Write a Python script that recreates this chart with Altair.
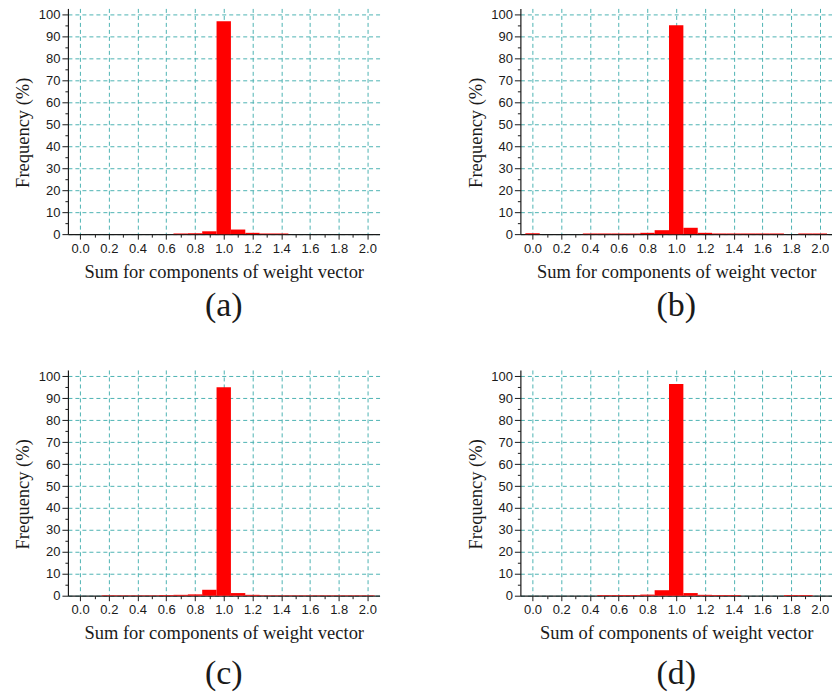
import altair as alt
import pandas as pd

# bin centres (bin width 0.1)
centers = [0.0, 0.1, 0.2, 0.3, 0.4, 0.5, 0.6, 0.7, 0.8, 0.9, 1.0,
           1.1, 1.2, 1.3, 1.4, 1.5, 1.6, 1.7, 1.8, 1.9, 2.0]

freq_a = [0.0, 0.0, 0.0, 0.0, 0.0, 0.0, 0.0, 0.3, 0.4, 1.3, 97.0,
          2.1, 0.6, 0.3, 0.3, 0.0, 0.0, 0.0, 0.0, 0.0, 0.0]
freq_b = [0.4, 0.0, 0.0, 0.0, 0.3, 0.3, 0.3, 0.3, 0.6, 1.8, 95.2,
          2.9, 0.6, 0.3, 0.3, 0.3, 0.3, 0.3, 0.0, 0.3, 0.3]
freq_c = [0.0, 0.0, 0.2, 0.2, 0.2, 0.2, 0.3, 0.4, 0.6, 2.7, 95.0,
          1.2, 0.4, 0.2, 0.2, 0.2, 0.2, 0.2, 0.2, 0.2, 0.2]
freq_d = [0.0, 0.0, 0.0, 0.0, 0.0, 0.3, 0.3, 0.3, 0.5, 2.5, 96.5,
          1.2, 0.4, 0.3, 0.3, 0.0, 0.0, 0.0, 0.3, 0.3, 0.0]

panel_labels = ["(a)", "(b)", "(c)", "(d)"]
x_titles = ["Sum for components of weight vector",
            "Sum for components of weight vector",
            "Sum for components of weight vector",
            "Sum of components of weight vector"]
y_title = "Frequency (%)"

x_ticks = [0.0, 0.1, 0.2, 0.3, 0.4, 0.5, 0.6, 0.7, 0.8, 0.9, 1.0,
           1.1, 1.2, 1.3, 1.4, 1.5, 1.6, 1.7, 1.8, 1.9, 2.0]
y_ticks = [0, 5, 10, 15, 20, 25, 30, 35, 40, 45, 50,
           55, 60, 65, 70, 75, 80, 85, 90, 95, 100]

GRID = "#4db3b3"
INK = "#1a1a1a"
MAJX = "round(datum.value * 10) % 2 == 0"
MAJY = "datum.value % 10 == 0"


def panel(freq, xtitle, label, label_offset):
    df = pd.DataFrame({"center": centers, "freq": freq})
    x_axis = alt.Axis(
        values=x_ticks,
        labelExpr=f"{MAJX} ? format(datum.value, '.1f') : ''",
        tickSize={"condition": {"test": MAJX, "value": 5}, "value": 3},
        gridOpacity={"condition": {"test": MAJX, "value": 1}, "value": 0},
        grid=True, gridColor=GRID, gridDash=[4, 3], gridWidth=1,
        domainColor=INK, domainWidth=1.2, tickColor=INK, tickWidth=1,
        labelFont="Liberation Sans", labelFontSize=13, labelColor=INK,
        labelPadding=3, labelFlush=False, labelOverlap=False,
        title=xtitle, titleFont="Liberation Serif", titleFontSize=18.5,
        titleFontWeight="normal", titleColor=INK, titlePadding=7,
    )
    y_axis = alt.Axis(
        values=y_ticks,
        labelExpr=f"{MAJY} ? datum.label : ''",
        tickSize={"condition": {"test": MAJY, "value": 6}, "value": 3},
        gridOpacity={"condition": {"test": MAJY, "value": 1}, "value": 0},
        grid=True, gridColor=GRID, gridDash=[4, 3], gridWidth=1,
        domainColor=INK, domainWidth=1.2, tickColor=INK, tickWidth=1,
        labelFont="Liberation Sans", labelFontSize=13, labelColor=INK,
        labelPadding=2, labelFlush=False, labelOverlap=False,
        title=y_title, titleFont="Liberation Serif", titleFontSize=18.5,
        titleFontWeight="normal", titleColor=INK, titlePadding=5.5,
        titleY=124,
    )
    return (
        alt.Chart(df)
        .transform_filter("datum.freq > 0")
        .transform_calculate(lo="datum.center - 0.05", hi="datum.center + 0.05")
        .mark_bar(color="#ff0000", stroke=None, orient="vertical")
        .encode(
            x=alt.X("lo:Q", scale=alt.Scale(domain=[-0.05, 2.05], nice=False, zero=False), axis=x_axis),
            x2="hi:Q",
            y=alt.Y("freq:Q", scale=alt.Scale(domain=[0, 102.9], nice=False), axis=y_axis),
            y2=alt.datum(0),
        )
        .properties(
            width=312, height=226,
            title=alt.TitleParams(text=label, orient="bottom", font="Liberation Serif",
                                  fontSize=34, fontWeight="normal", color=INK,
                                  offset=label_offset),
        )
    )


offsets = [8, 8, 15, 15]
panels = [panel(f, t, l, o) for f, t, l, o in
          zip([freq_a, freq_b, freq_c, freq_d], x_titles, panel_labels, offsets)]

chart = (
    alt.concat(*panels, columns=2, spacing={"row": 47, "column": 86})
    .properties(padding={"left": 5, "top": 0, "right": 0, "bottom": 0})
    .configure_view(stroke=None)
)

chart.save("out.html", embed_options={"renderer": "svg", "actions": False})
